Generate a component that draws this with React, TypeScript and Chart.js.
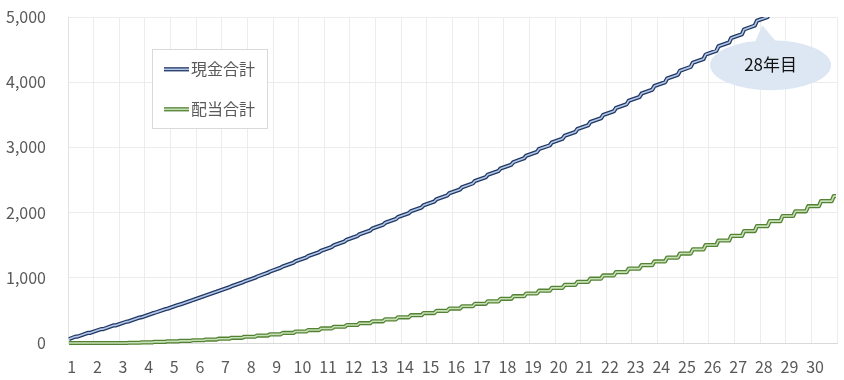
import { useEffect, useRef } from 'react';
import { Chart, registerables } from 'chart.js';

Chart.register(...registerables);

// ---- data ----
const yearLabels = [
  '1', '2', '3', '4', '5', '6', '7', '8', '9', '10',
  '11', '12', '13', '14', '15', '16', '17', '18', '19', '20',
  '21', '22', '23', '24', '25', '26', '27', '28', '29', '30',
];
const yTickValues = [0, 1000, 2000, 3000, 4000, 5000];
const seriesNames = ['現金合計', '配当合計'];
const calloutText = '28年目';

// cumulative dividends after each half-yearly payout (months 5, 11, 17, ...)
const dividendTotals = [
  0, 0, 0, 0, 4, 10, 18, 25, 33, 42,
  53, 66, 80, 96, 114, 133, 154, 176, 199, 223,
  249, 276, 304, 333, 363, 394, 426, 459, 493, 528,
  564, 601, 639, 678, 718, 759, 802, 846, 891, 938,
  986, 1036, 1087, 1140, 1194, 1251, 1310, 1372, 1436, 1503,
  1572, 1643, 1717, 1792, 1869, 1948, 2020, 2098, 2176, 2252,
];
// cash total right after each payout
const cashStart = 60;
const cashTotals = [
  98, 156, 213, 271, 332, 396, 462, 526, 592, 658,
  727, 798, 869, 943, 1018, 1095, 1174, 1253, 1334, 1415,
  1499, 1584, 1669, 1756, 1843, 1932, 2022, 2112, 2204, 2296,
  2390, 2485, 2580, 2677, 2774, 2873, 2974, 3075, 3178, 3282,
  3388, 3496, 3604, 3715, 3826, 3941, 4058, 4177, 4299, 4423,
  4550, 4679, 4810, 4943, 5077,
];
const totalMonths = 360;
const firstPayoutMonth = 5;
const payoutInterval = 6;

const FONT = "'Noto Sans CJK JP', 'Noto Sans', sans-serif";
const BLUE_OUT = '#203864';
const BLUE_IN = '#b4c7e7';
const GREEN_OUT = '#548235';
const GREEN_IN = '#c5e0b4';

function buildPoints() {
  const green: { x: number; y: number }[] = [{ x: 0.5, y: 0 }];
  const blue: { x: number; y: number }[] = [{ x: 0.5, y: cashStart }];
  let prevD = 0;
  dividendTotals.forEach((d, k) => {
    const p = firstPayoutMonth + payoutInterval * k;
    green.push({ x: p - 1.5, y: prevD }, { x: p - 0.5, y: d });
    if (k < cashTotals.length) {
      const c = cashTotals[k];
      blue.push({ x: p - 1.5, y: c - (d - prevD) }, { x: p - 0.5, y: c });
    }
    prevD = d;
  });
  green.push({ x: totalMonths - 0.5, y: prevD });
  return { green, blue };
}

function doubleLine(ctx: CanvasRenderingContext2D, x1: number, x2: number, y: number, outer: string, inner: string) {
  ctx.save();
  ctx.lineCap = 'butt';
  ctx.strokeStyle = outer;
  ctx.lineWidth = 4.2;
  ctx.beginPath();
  ctx.moveTo(x1, y);
  ctx.lineTo(x2, y);
  ctx.stroke();
  ctx.strokeStyle = inner;
  ctx.lineWidth = 1.6;
  ctx.beginPath();
  ctx.moveTo(x1, y);
  ctx.lineTo(x2, y);
  ctx.stroke();
  ctx.restore();
}

const overlayPlugin = {
  id: 'overlay',
  afterDatasetsDraw(chart: any) {
    const { ctx, chartArea, scales } = chart;
    const xs = scales.x;
    const ys = scales.y;
    // callout
    const cx = xs.getPixelForValue(328.9);
    const cy = ys.getPixelForValue(4261);
    const tipX = xs.getPixelForValue(325);
    const tipY = ys.getPixelForValue(4873);
    ctx.save();
    ctx.fillStyle = '#dde7f3';
    ctx.beginPath();
    ctx.ellipse(cx, cy, 60.5, 25, 0, 0, Math.PI * 2);
    ctx.fill();
    ctx.beginPath();
    ctx.moveTo(cx - 16, cy - 22);
    ctx.lineTo(tipX, tipY);
    ctx.lineTo(cx + 7, cy - 22);
    ctx.closePath();
    ctx.fill();
    ctx.fillStyle = '#111111';
    ctx.font = `17px ${FONT}`;
    ctx.textAlign = 'center';
    ctx.textBaseline = 'middle';
    ctx.fillText(calloutText, cx, cy - 1);
    ctx.restore();

    // legend box
    const lx = chartArea.left + 84;
    const ly = chartArea.top + 32;
    ctx.save();
    ctx.fillStyle = '#ffffff';
    ctx.fillRect(lx, ly, 115, 79);
    ctx.strokeStyle = '#d9d9d9';
    ctx.lineWidth = 1;
    ctx.strokeRect(Math.round(lx) + 0.5, Math.round(ly) + 0.5, 115, 79);
    const rows = [
      { y: ly + 20.3, out: BLUE_OUT, inn: BLUE_IN, name: seriesNames[0] },
      { y: ly + 60.3, out: GREEN_OUT, inn: GREEN_IN, name: seriesNames[1] },
    ];
    ctx.font = `16px ${FONT}`;
    ctx.textAlign = 'left';
    ctx.textBaseline = 'middle';
    rows.forEach((r) => {
      doubleLine(ctx, lx + 12, lx + 37, r.y, r.out, r.inn);
      ctx.fillStyle = '#595959';
      ctx.fillText(r.name, lx + 39, r.y);
    });
    ctx.restore();
  },
};

export default function App() {
  const ref = useRef<HTMLCanvasElement | null>(null);

  useEffect(() => {
    if (!ref.current) return;
    const { green, blue } = buildPoints();
    const common = {
      pointRadius: 0,
      pointHoverRadius: 0,
      fill: false,
      tension: 0,
      borderJoinStyle: 'round' as const,
      clip: { left: 5, top: 0, right: 5, bottom: 5 },
    };
    const zeroPad = (s: any) => {
      s.paddingTop = 0;
      s.paddingBottom = 0;
      s.paddingLeft = 0;
      s.paddingRight = 0;
    };
    const chart = new Chart(ref.current, {
      type: 'line',
      data: {
        datasets: [
          { ...common, label: seriesNames[0], data: blue, borderColor: BLUE_OUT, borderWidth: 4.2, order: 4 },
          { ...common, label: seriesNames[0] + ' inner', data: blue, borderColor: BLUE_IN, borderWidth: 1.6, order: 3 },
          { ...common, label: seriesNames[1], data: green, borderColor: GREEN_OUT, borderWidth: 4.2, order: 2 },
          { ...common, label: seriesNames[1] + ' inner', data: green, borderColor: GREEN_IN, borderWidth: 1.6, order: 1 },
        ],
      },
      options: {
        responsive: false,
        animation: false,
        events: [],
        layout: { padding: { left: 0, top: 17, right: 7, bottom: 0 } },
        plugins: {
          legend: { display: false },
          tooltip: { enabled: false },
        },
        scales: {
          x: {
            type: 'linear',
            min: 0,
            max: totalMonths,
            afterFit: (s: any) => {
              s.height = 37;
              zeroPad(s);
            },
            grid: { color: '#ececec', drawTicks: false },
            border: { color: '#d9d9d9' },
            ticks: {
              stepSize: 12,
              autoSkip: false,
              maxRotation: 0,
              labelOffset: 3.7,
              padding: 14,
              color: '#595959',
              font: { family: FONT, size: 16 },
              callback: (v: any) => yearLabels[Math.round(Number(v) / 12)] ?? '',
            },
          },
          y: {
            min: yTickValues[0],
            max: yTickValues[yTickValues.length - 1],
            afterFit: (s: any) => {
              s.width = 68;
              zeroPad(s);
            },
            afterBuildTicks: (s: any) => {
              s.ticks = yTickValues.map((v) => ({ value: v }));
            },
            grid: { color: '#ececec', drawTicks: false },
            border: { color: '#e2e2e2' },
            ticks: {
              padding: 22,
              color: '#595959',
              font: { family: FONT, size: 16 },
              callback: (v: any) => Number(v).toLocaleString('en-US'),
            },
          },
        },
      },
      plugins: [overlayPlugin],
    });
    return () => chart.destroy();
  }, []);

  return (
    <div style={{ position: 'absolute', left: 0, top: 0, width: 844, height: 380, background: '#ffffff' }}>
      <canvas ref={ref} width={844} height={380} />
    </div>
  );
}
